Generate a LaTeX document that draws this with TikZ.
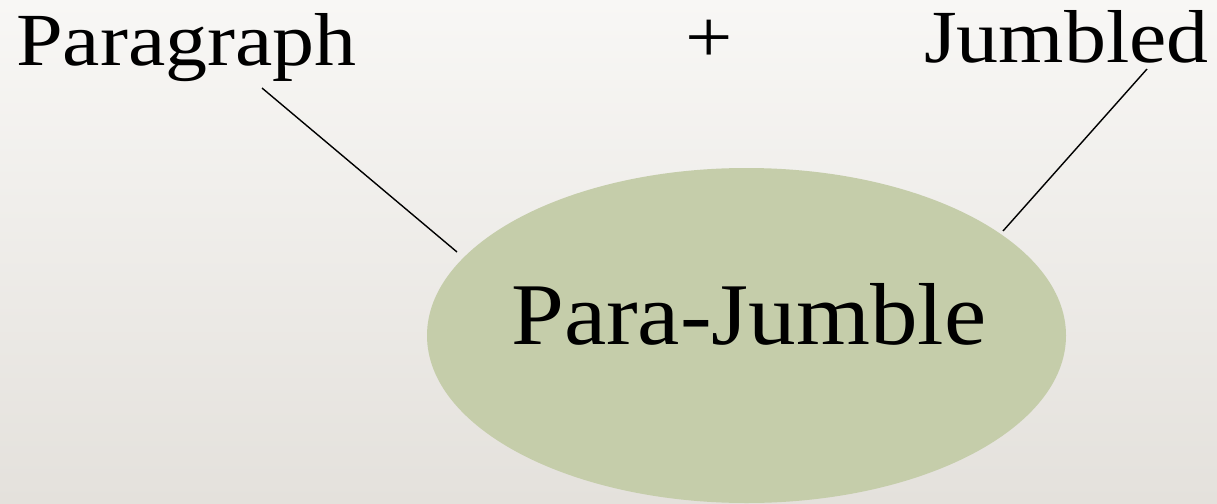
\documentclass[tikz,border=0pt]{standalone}
\usepackage{fontspec}
\setmainfont{Liberation Serif}
\newfontfamily\wideserif[FakeStretch=1.12]{Liberation Serif}
\newfontfamily\ovalserif[FakeStretch=1.08]{Liberation Serif}
\definecolor{bgtop}{HTML}{F8F7F5}
\definecolor{bgbottom}{HTML}{E4E1DC}
\definecolor{ovalfill}{HTML}{C5CDAA}
\tikzset{
  word/.style={inner sep=0pt, anchor=base west, text=black,
    font=\wideserif\fontsize{75}{80}\selectfont},
  oval/.style={ellipse, fill=ovalfill, inner sep=0pt,
    minimum width=639pt, minimum height=335pt},
  link/.style={draw=black, line width=1.4pt}
}
\usetikzlibrary{shapes.geometric}
\begin{document}
\begin{tikzpicture}[x=1pt, y=-1pt]
  % page background
  \shade[top color=bgtop, bottom color=bgbottom] (0,0) rectangle (1217,503);
  \useasboundingbox (0,0) rectangle (1217,503);

  % central oval
  \node[oval] (ell) at (746.5,335.5) {};
  \node[inner sep=0pt, anchor=base west,
        font=\ovalserif\fontsize{88}{90}\selectfont] (title) at (511,344) {Para-Jumble};

  % the two source words
  \node[word] (para) at (16,65) {Paragraph};
  \node[word, anchor=center] (plus) at (709,41) {+};
  \node[word] (jumb) at (924,63) {Jumbled};

  % connector end points
  \coordinate (paraTail) at (262,88);
  \coordinate (jumbTail) at (1147,69);
  \coordinate (ellLeft) at (457,252);
  \coordinate (ellRight) at (1003,231);

  \draw[link] (paraTail) -- (ellLeft);
  \draw[link] (jumbTail) -- (ellRight);
\end{tikzpicture}
\end{document}
